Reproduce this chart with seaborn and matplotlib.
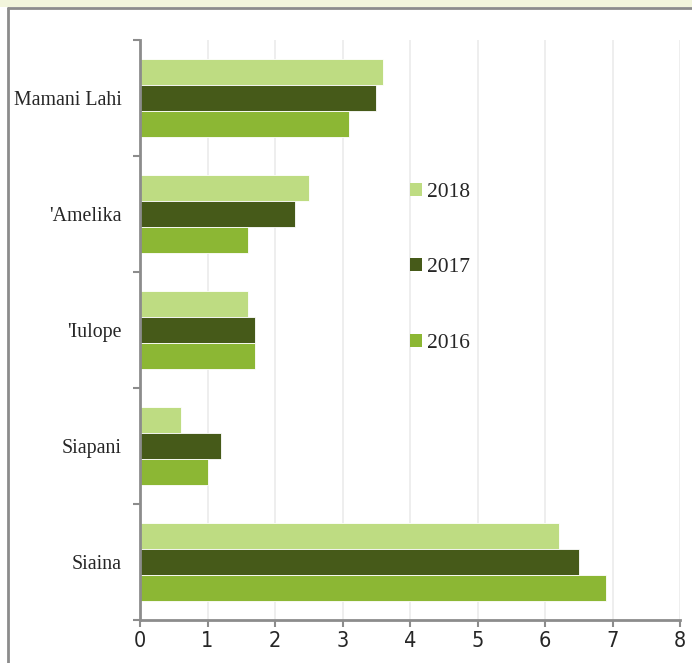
import matplotlib
matplotlib.use("Agg")
import matplotlib.pyplot as plt
import matplotlib.patches as mpatches
from matplotlib.lines import Line2D
import seaborn as sns
import pandas as pd

categories = ["Mamani Lahi", "'Amelika", "'Iulope", "Siapani", "Siaina"]
years = ["2018", "2017", "2016"]
v2018 = [3.6, 2.5, 1.6, 0.6, 6.2]
v2017 = [3.5, 2.3, 1.7, 1.2, 6.5]
v2016 = [3.1, 1.6, 1.7, 1.0, 6.9]
x_ticks = [0, 1, 2, 3, 4, 5, 6, 7, 8]
colors = {"2018": "#BEDC82", "2017": "#465A19", "2016": "#8CB734"}

rows = []
for y, vals in zip(years, [v2018, v2017, v2016]):
    for c, v in zip(categories, vals):
        rows.append({"region": c, "year": y, "value": v})
df = pd.DataFrame(rows)

sns.set_style("white")
fig = plt.figure(figsize=(6.92, 6.63), dpi=100)
fig.patch.set_facecolor("white")

# top band and frame
fig.patches.append(mpatches.Rectangle((0, 1 - 7/663), 1, 7/663, transform=fig.transFigure,
                                      facecolor="#F2F5DC", edgecolor="none", zorder=0))
fig.add_artist(Line2D([8/692, 8/692], [0, 1 - 8/663], transform=fig.transFigure, color="#8C8C8C", lw=2))
fig.add_artist(Line2D([8/692, 1], [1 - 8/663, 1 - 8/663], transform=fig.transFigure, color="#8C8C8C", lw=2))

ax = fig.add_axes([140/692, 1 - 620/663, 540/692, 580/663])
sns.barplot(data=df, y="region", x="value", hue="year", order=categories, hue_order=years,
            palette=colors, orient="h", width=0.67, ax=ax, legend=False,
            edgecolor="white", linewidth=0.6, saturation=1)

ax.set_xlim(0, 8)
ax.set_ylim(4.5, -0.5)
ax.set_xticks(x_ticks)
ax.set_xticklabels([str(t) for t in x_ticks], family=["DejaVu Sans"], fontstretch="condensed", fontsize=15.5)
ax.set_yticks(range(len(categories)))
ax.set_yticklabels(categories, family=["Liberation Serif"], fontsize=14.3)
ax.tick_params(axis="y", which="major", left=True, length=0, pad=13)
ax.set_yticks([i - 0.5 for i in range(len(categories) + 1)], minor=True)
ax.tick_params(axis="y", which="minor", left=True, length=5, width=1.5, color="#8C8C8C", direction="out")
ax.tick_params(axis="x", bottom=True, length=5, width=1.5, color="#8C8C8C", direction="out", pad=3)
ax.set_xlabel("")
ax.set_ylabel("")
ax.xaxis.grid(True, color="#EBEBEB", lw=1.2)
ax.set_axisbelow(True)
for s in ["top", "right"]:
    ax.spines[s].set_visible(False)
for s in ["left", "bottom"]:
    ax.spines[s].set_color("#8C8C8C")
    ax.spines[s].set_linewidth(2)

handles = [mpatches.Patch(facecolor=colors[y], edgecolor="none", label=y) for y in years]
leg = ax.legend(handles=handles, loc="upper left", bbox_to_anchor=(251/540, (620 - 163.5)/580),
                frameon=False, prop={"family": "Liberation Serif", "size": 15.5},
                handlelength=0.55, handleheight=0.55, handletextpad=0.22, labelspacing=2.62)

fig.savefig("out.png", dpi=100)
